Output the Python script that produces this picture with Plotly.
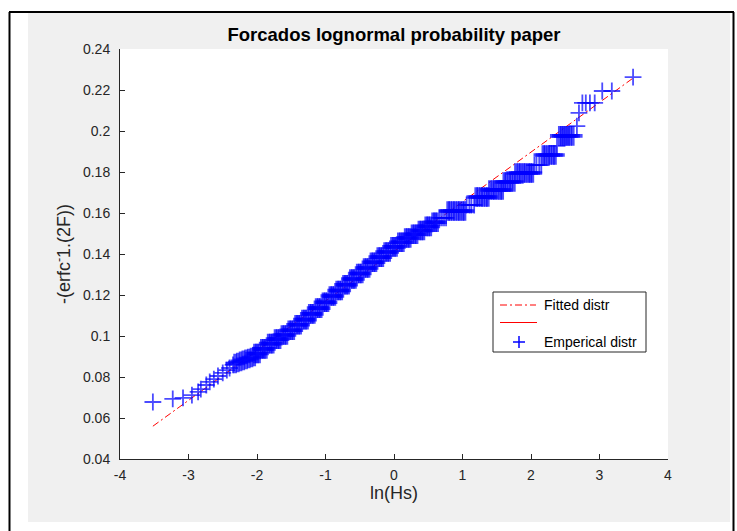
import plotly.graph_objects as go

# ---------------- data ----------------
# fitted line end points
fit_x = [-3.52, 3.49]
fit_y = [0.0560, 0.2258]

# sparse empirical points, lower tail
low_x = [-3.52, -3.23, -3.08, -2.95, -2.86, -2.82, -2.74, -2.69, -2.63, -2.57, -2.50, -2.44, -2.40, -2.35]
low_y = [0.0678, 0.0693, 0.0698, 0.0712, 0.0727, 0.0741, 0.0761, 0.0776, 0.0790, 0.0805, 0.0820, 0.0834, 0.0844, 0.0859]

# dense band: small steps (x of crosses, y of each step)
mid_x = [-2.32, -2.28, -2.24, -2.20, -2.16, -2.12, -2.08, -2.04,
         -2.03, -2.00, -1.97, -1.93, -1.90, -1.87, -1.83, -1.80, -1.77, -1.73, -1.70, -1.67,
         -1.63, -1.60, -1.57, -1.53, -1.50, -1.47, -1.43, -1.40, -1.37, -1.33, -1.30, -1.27,
         -1.23, -1.20, -1.17, -1.13, -1.10, -1.07, -1.03, -1.00, -0.97, -0.93, -0.90, -0.87,
         -0.83, -0.80, -0.77, -0.73, -0.70, -0.67, -0.63, -0.60, -0.57, -0.53, -0.50, -0.47,
         -0.43, -0.40, -0.37, -0.33, -0.30, -0.27, -0.23, -0.20, -0.17, -0.13, -0.10, -0.07,
         -0.03, 0.00, 0.03, 0.07, 0.10, 0.13, 0.17, 0.20, 0.23, 0.27, 0.30, 0.33,
         0.37, 0.40, 0.43, 0.47, 0.50, 0.53, 0.57, 0.60, 0.63]
mid_y = [0.0866, 0.0871, 0.0876, 0.0881, 0.0886, 0.0890, 0.0895, 0.0900,
         0.0915, 0.0915, 0.0915, 0.0937, 0.0937, 0.0937, 0.0963, 0.0963, 0.0963, 0.0985, 0.0985, 0.0985,
         0.1005, 0.1005, 0.1005, 0.1028, 0.1028, 0.1028, 0.1055, 0.1055, 0.1055, 0.1080, 0.1080, 0.1080,
         0.1108, 0.1108, 0.1108, 0.1136, 0.1136, 0.1136, 0.1165, 0.1165, 0.1165, 0.1195, 0.1195, 0.1195,
         0.1222, 0.1222, 0.1222, 0.1250, 0.1250, 0.1250, 0.1278, 0.1278, 0.1278, 0.1305, 0.1305, 0.1305,
         0.1332, 0.1332, 0.1332, 0.1360, 0.1360, 0.1360, 0.1385, 0.1385, 0.1385, 0.1410, 0.1410, 0.1410,
         0.1435, 0.1435, 0.1435, 0.1457, 0.1457, 0.1457, 0.1478, 0.1478, 0.1478, 0.1496, 0.1496, 0.1496,
         0.1515, 0.1515, 0.1515, 0.1535, 0.1535, 0.1535, 0.1555, 0.1555, 0.1555]

# upper tail: discrete levels and the crosses on each level
level_y = [0.1576, 0.1610, 0.1639, 0.1678, 0.1712, 0.1751, 0.1795, 0.1834, 0.1883, 0.1927,
           0.1976, 0.2024, 0.2088, 0.2137, 0.2195, 0.2263]
level_x = [
    [0.67, 0.70, 0.73, 0.76],
    [0.79, 0.82, 0.86, 0.89, 0.93, 0.96, 1.00, 1.03],
    [1.06, 1.10, 1.13, 1.17],
    [1.20, 1.23, 1.27, 1.30, 1.34, 1.37],
    [1.40, 1.44, 1.47, 1.51, 1.55, 1.58],
    [1.61, 1.64, 1.68, 1.71, 1.75],
    [1.78, 1.82, 1.85, 1.89, 1.92, 1.96, 1.99, 2.02],
    [2.05, 2.08, 2.12, 2.15],
    [2.18, 2.21, 2.25, 2.28, 2.32, 2.35],
    [2.38],
    [2.42, 2.45, 2.48, 2.51, 2.54, 2.57, 2.61],
    [2.67],
    [2.70],
    [2.75, 2.80, 2.86, 2.93],
    [3.04, 3.18],
    [3.49],
]

x_ticks = [-4, -3, -2, -1, 0, 1, 2, 3, 4]
x_tick_text = ["-4", "-3", "-2", "-1", "0", "1", "2", "3", "4"]
y_ticks = [0.04, 0.06, 0.08, 0.10, 0.12, 0.14, 0.16, 0.18, 0.20, 0.22, 0.24]
y_tick_text = ["0.04", "0.06", "0.08", "0.1", "0.12", "0.14", "0.16", "0.18", "0.2", "0.22", "0.24"]

legend_labels = ["Fitted distr", "", "Emperical distr"]

# ---------------- build ----------------
# crosses in the packed band are drawn heavier so the overlapping marks merge into a solid band
emp_x, emp_y, emp_w, emp_s = [], [], [], []
for xv, yv in zip(low_x, low_y):
    emp_x.append(xv); emp_y.append(yv); emp_w.append(1.8); emp_s.append(12)
for xv, yv in zip(mid_x, mid_y):
    emp_x.append(xv); emp_y.append(yv); emp_w.append(3.6); emp_s.append(14)
for yv, xs in zip(level_y, level_x):
    packed = len(xs) > 4
    for xv in xs:
        emp_x.append(xv); emp_y.append(yv)
        emp_w.append(3.6 if packed else 1.8)
        emp_s.append(14 if packed else 12)

W, H = 737, 531
L, R, T, B = 120, 69, 49, 72
PW, PH = W - L - R, H - T - B
FONT = "Liberation Sans, Arial, Helvetica, sans-serif"


def fx(px):
    return (px - L) / PW


def fy(py):
    return (H - B - py) / PH


fig = go.Figure()
fig.add_trace(go.Scatter(
    x=fit_x, y=fit_y, mode="lines", name="Fitted distr",
    line=dict(color="#ff0000", width=1, dash="7px,3px,2px,3px"),
))
fig.add_trace(go.Scatter(
    x=emp_x, y=emp_y, mode="markers", name="Emperical distr",
    marker=dict(symbol="cross-thin", size=emp_s, color="#0000ff",
                line=dict(color="#0000ff", width=emp_w)),
))

axis_common = dict(
    showgrid=False, zeroline=False, showline=True, linecolor="#262626", linewidth=1,
    ticks="inside", ticklen=5, tickwidth=1, tickcolor="#262626",
    tickfont=dict(family=FONT, size=14, color="#262626"),
    mirror=False, automargin=False,
)

fig.update_layout(
    width=W, height=H,
    margin=dict(l=L, r=R, t=T, b=B, pad=0),
    paper_bgcolor="#f0f0f0", plot_bgcolor="#ffffff",
    showlegend=False,
    title=dict(text="<b>Forcados lognormal probability paper</b>",
               x=fx(394), xref="paper", xanchor="center",
               y=1 - 35 / H, yref="container", yanchor="middle",
               font=dict(family=FONT, size=18.5, color="#000000")),
    xaxis=dict(axis_common, range=[-4, 4], tickvals=x_ticks, ticktext=x_tick_text,
               ticklabelstandoff=3,
               title=dict(text="ln(Hs)", standoff=4,
                          font=dict(family=FONT, size=18, color="#262626"))),
    yaxis=dict(axis_common, range=[0.04, 0.24], tickvals=y_ticks, ticktext=y_tick_text,
               ticklabelstandoff=6,
               title=dict(text="-(erfc<sup>-</sup>1.(2F))", standoff=7,
                          font=dict(family=FONT, size=18, color="#262626"))),
)

white = "#ffffff"
shapes = [
    # white margin round the grey figure window, and its black frame
    dict(type="rect", xref="paper", yref="paper", x0=fx(0), x1=fx(28), y0=fy(H), y1=fy(0),
         fillcolor=white, line=dict(width=0), layer="below"),
    dict(type="rect", xref="paper", yref="paper", x0=fx(0), x1=fx(W), y0=fy(13), y1=fy(0),
         fillcolor=white, line=dict(width=0), layer="below"),
    dict(type="rect", xref="paper", yref="paper", x0=fx(730), x1=fx(W), y0=fy(H), y1=fy(0),
         fillcolor=white, line=dict(width=0), layer="below"),
    dict(type="rect", xref="paper", yref="paper", x0=fx(0), x1=fx(W), y0=fy(H), y1=fy(522),
         fillcolor=white, line=dict(width=0), layer="below"),
    dict(type="line", xref="paper", yref="paper", x0=fx(9.5), x1=fx(9.5), y0=fy(H), y1=fy(12),
         line=dict(color="#000000", width=2)),
    dict(type="line", xref="paper", yref="paper", x0=fx(9), x1=fx(734), y0=fy(12), y1=fy(12),
         line=dict(color="#000000", width=2)),
    dict(type="line", xref="paper", yref="paper", x0=fx(733.5), x1=fx(733.5), y0=fy(H), y1=fy(12),
         line=dict(color="#000000", width=2)),
    # legend box
    dict(type="rect", xref="paper", yref="paper", x0=fx(493), x1=fx(646), y0=fy(352), y1=fy(292),
         fillcolor=white, line=dict(color="#262626", width=1), layer="above"),
    # legend samples
    dict(type="line", xref="paper", yref="paper", x0=fx(500), x1=fx(536), y0=fy(305), y1=fy(305),
         line=dict(color="#ff0000", width=1, dash="7px,3px,2px,3px"), layer="above"),
    dict(type="line", xref="paper", yref="paper", x0=fx(500), x1=fx(537), y0=fy(322.5), y1=fy(322.5),
         line=dict(color="#ff0000", width=1), layer="above"),
    dict(type="line", xref="paper", yref="paper", x0=fx(513), x1=fx(525), y0=fy(342), y1=fy(342),
         line=dict(color="#0000ff", width=1.5), layer="above"),
    dict(type="line", xref="paper", yref="paper", x0=fx(519), x1=fx(519), y0=fy(336), y1=fy(348),
         line=dict(color="#0000ff", width=1.5), layer="above"),
]
fig.update_layout(shapes=shapes)

legend_rows = [305, 322.5, 342]
annotations = []
for lab, py in zip(legend_labels, legend_rows):
    if lab:
        annotations.append(dict(text=lab, xref="paper", yref="paper", x=fx(542), y=fy(py),
                                xanchor="left", yanchor="middle", showarrow=False,
                                font=dict(family=FONT, size=14, color="#000000")))
fig.update_layout(annotations=annotations)

fig.write_html("out.html")
